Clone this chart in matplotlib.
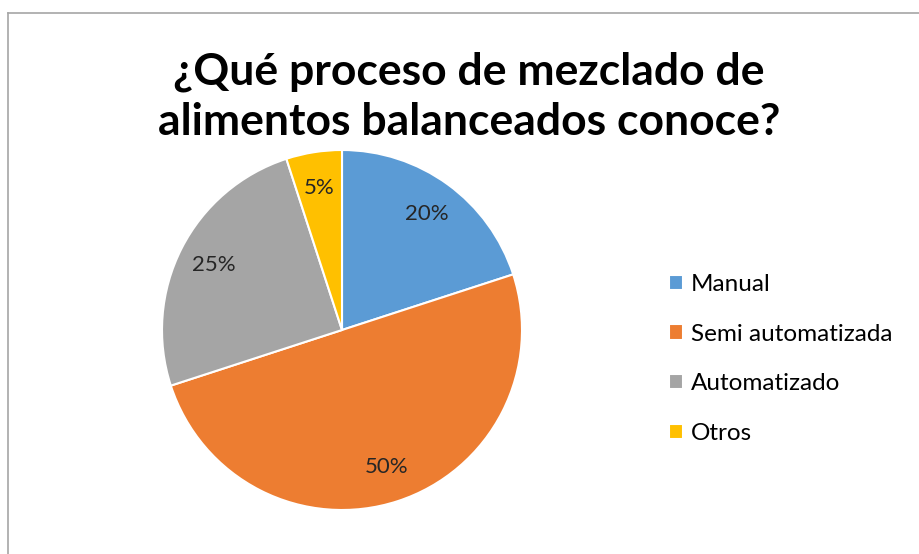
import matplotlib.pyplot as plt
from matplotlib.lines import Line2D

categorias = ["Manual", "Semi automatizada", "Automatizado", "Otros"]
valores = [20, 50, 25, 5]
colores = ["#5B9BD5", "#ED7D31", "#A5A5A5", "#FFC000"]
titulo = "¿Qué proceso de mezclado de\nalimentos balanceados conoce?"

plt.rcParams['font.family'] = ['Lato', 'DejaVu Sans']

W, H = 920, 554
fig = plt.figure(figsize=(W / 100, H / 100), dpi=100)

# marco del grafico
fig.add_artist(Line2D([8 / W, 8 / W], [0, 1 - 13 / H], color="#A6A6A6", lw=1.2))
fig.add_artist(Line2D([8 / W, 1], [1 - 13 / H, 1 - 13 / H], color="#A6A6A6", lw=1.2))

# pie: centro (342, 330), radio 180 px
cx, cy, r = 342, 330, 180
ax = fig.add_axes([(cx - r) / W, 1 - (cy + r) / H, 2 * r / W, 2 * r / H])
wedges, texts, autotexts = ax.pie(
    valores, colors=colores, startangle=90, counterclock=False,
    autopct=lambda p: f"{p:.0f}%", pctdistance=0.8, radius=1,
    wedgeprops=dict(edgecolor="white", linewidth=1.5),
    textprops=dict(fontsize=16, color="#262626"))
ax.set_xlim(-1, 1)
ax.set_ylim(-1, 1)
ax.set_aspect("equal")
ax.axis("off")

fig.text(469 / W, 1 - 97 / H, titulo, ha="center", va="center",
         fontsize=32, fontweight="bold", color="black", linespacing=1.3)

fig.legend(wedges, categorias, loc="center left",
           bbox_to_anchor=(647 / W, 1 - 359 / H), frameon=False,
           fontsize=17.5, handlelength=0.6, handleheight=0.6,
           handletextpad=0.3, labelspacing=1.18, labelcolor="#000000")

fig.savefig("out.png", dpi=100)
